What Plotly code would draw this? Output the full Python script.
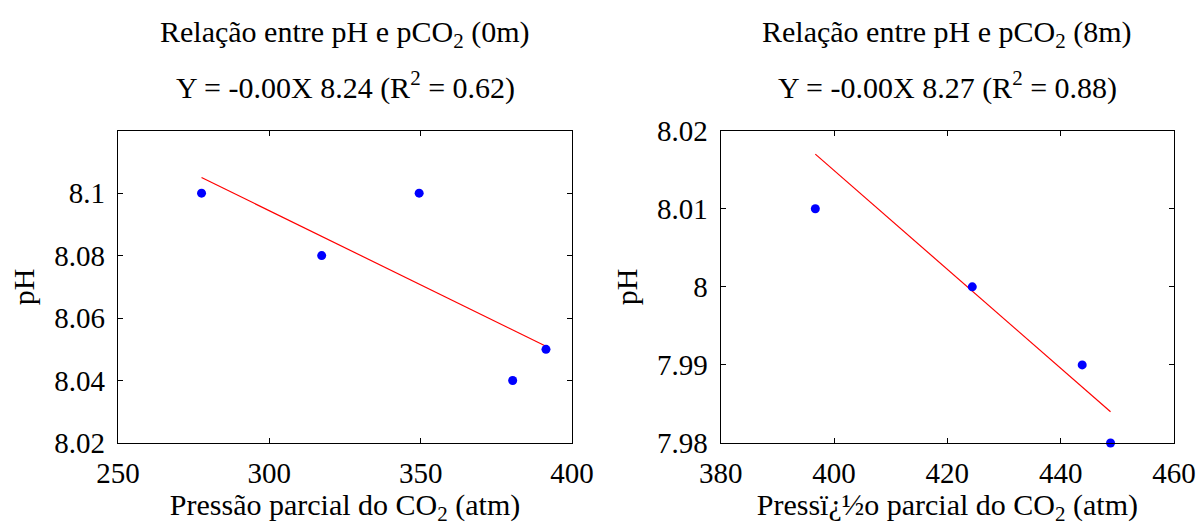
import plotly.graph_objects as go

# ---- data ----
x0m = [277.6, 317.3, 349.5, 380.4, 391.4]
ph0m = [8.10, 8.08, 8.10, 8.04, 8.05]
fit0m_x = [277.6, 391.4]
fit0m_y = [8.105, 8.051]

x8m = [396.7, 424.4, 443.8, 448.8]
ph8m = [8.01, 8.00, 7.99, 7.98]
fit8m_x = [396.7, 448.8]
fit8m_y = [8.017, 7.984]

title0m = ["Relação entre pH e pCO<sub>2</sub> (0m)", "Y = -0.00X 8.24 (R<sup>2</sup> = 0.62)"]
title8m = ["Relação entre pH e pCO<sub>2</sub> (8m)", "Y = -0.00X 8.27 (R<sup>2</sup> = 0.88)"]
xlabel0m = "Pressão parcial do CO<sub>2</sub> (atm)"
xlabel8m = "Pressï¿½o parcial do CO<sub>2</sub> (atm)"
ylabel = "pH"

xticks0m = [250, 300, 350, 400]
yticks0m = [8.02, 8.04, 8.06, 8.08, 8.1]
ytext0m = ["8.02", "8.04", "8.06", "8.08", "8.1"]
xticks8m = [380, 400, 420, 440, 460]
yticks8m = [7.98, 7.99, 8.0, 8.01, 8.02]
ytext8m = ["7.98", "7.99", "8", "8.01", "8.02"]

FONT = "'Liberation Serif', 'Times New Roman', serif"
FS = 29      # tick labels
FS_T = 30    # titles and axis titles

fig = go.Figure()
fig.add_trace(go.Scatter(x=fit0m_x, y=fit0m_y, mode="lines", line=dict(color="red", width=1.2),
                         xaxis="x", yaxis="y", showlegend=False, cliponaxis=False))
fig.add_trace(go.Scatter(x=x0m, y=ph0m, mode="markers", marker=dict(color="blue", size=9),
                         xaxis="x", yaxis="y", showlegend=False, cliponaxis=False))
fig.add_trace(go.Scatter(x=fit8m_x, y=fit8m_y, mode="lines", line=dict(color="red", width=1.2),
                         xaxis="x2", yaxis="y2", showlegend=False, cliponaxis=False))
fig.add_trace(go.Scatter(x=x8m, y=ph8m, mode="markers", marker=dict(color="blue", size=9),
                         xaxis="x2", yaxis="y2", showlegend=False, cliponaxis=False))

W, H = 1200, 526
dx1 = [118 / W, 572 / W]
dx2 = [720.7 / W, 1174 / W]
dy = [(H - 443) / H, (H - 130.7) / H]

axis_common = dict(showline=True, linecolor="black", linewidth=1.2, mirror="ticks",
                   ticks="inside", ticklen=5, tickwidth=1, tickcolor="black",
                   showgrid=False, zeroline=False, automargin=False,
                   tickfont=dict(family=FONT, size=FS, color="black"))

fig.update_layout(
    width=W, height=H, margin=dict(l=0, r=0, t=0, b=0, autoexpand=False),
    paper_bgcolor="white", plot_bgcolor="white",
    font=dict(family=FONT, size=FS, color="black"),
    xaxis=dict(domain=dx1, range=[250, 400], tickvals=xticks0m, anchor="y",
               ticklabelstandoff=4,
               title=dict(text=xlabel0m, font=dict(family=FONT, size=FS_T), standoff=0),
               **axis_common),
    yaxis=dict(domain=dy, range=[8.02, 8.12], tickvals=yticks0m, ticktext=ytext0m, anchor="x",
               ticklabelstandoff=6,
               title=dict(text=ylabel, font=dict(family=FONT, size=FS_T), standoff=10),
               **axis_common),
    xaxis2=dict(domain=dx2, range=[380, 460], tickvals=xticks8m, anchor="y2",
                ticklabelstandoff=4,
                title=dict(text=xlabel8m, font=dict(family=FONT, size=FS_T), standoff=0),
                **axis_common),
    yaxis2=dict(domain=dy, range=[7.98, 8.02], tickvals=yticks8m, ticktext=ytext8m, anchor="x2",
                ticklabelstandoff=6,
                title=dict(text=ylabel, font=dict(family=FONT, size=FS_T), standoff=10),
                **axis_common),
)

annotations = []
for t, xc in ((title0m, (dx1[0] + dx1[1]) / 2), (title8m, (dx2[0] + dx2[1]) / 2)):
    annotations.append(dict(text=t[0], x=xc, y=1 - 34 / H, xref="paper", yref="paper",
                            xanchor="center", yanchor="middle", showarrow=False,
                            font=dict(family=FONT, size=FS_T, color="black")))
    annotations.append(dict(text=t[1], x=xc, y=1 - 86 / H, xref="paper", yref="paper",
                            xanchor="center", yanchor="middle", showarrow=False,
                            font=dict(family=FONT, size=FS_T, color="black")))
fig.update_layout(annotations=annotations)

fig.write_html("out.html")
